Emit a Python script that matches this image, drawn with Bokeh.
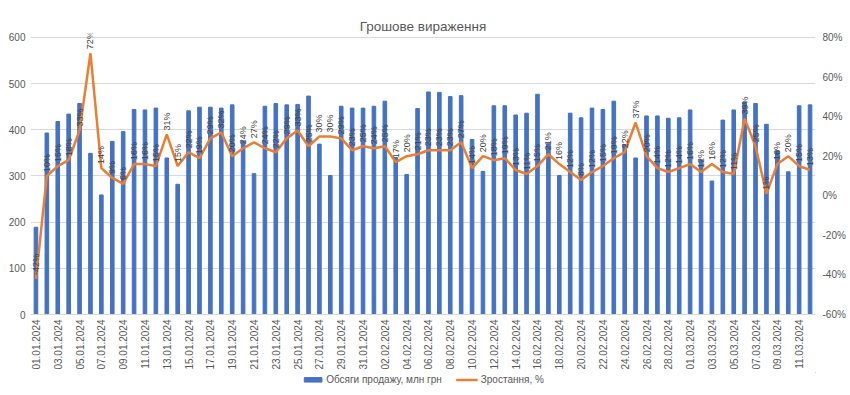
import math
from bokeh.plotting import figure
from bokeh.layouts import column
from bokeh.models import (Range1d, LinearAxis, FixedTicker, Legend, LegendItem,
                          ColumnDataSource, PrintfTickFormatter, CDSView, IndexFilter)
from bokeh.embed import file_html
from bokeh.resources import INLINE
from bokeh.core.properties import value

dates = [
    "01.01.2024", "02.01.2024", "03.01.2024", "04.01.2024", "05.01.2024", "06.01.2024",
    "07.01.2024", "08.01.2024", "09.01.2024", "10.01.2024", "11.01.2024", "12.01.2024",
    "13.01.2024", "14.01.2024", "15.01.2024", "16.01.2024", "17.01.2024", "18.01.2024",
    "19.01.2024", "20.01.2024", "21.01.2024", "22.01.2024", "23.01.2024", "24.01.2024",
    "25.01.2024", "26.01.2024", "27.01.2024", "28.01.2024", "29.01.2024", "30.01.2024",
    "31.01.2024", "01.02.2024", "02.02.2024", "03.02.2024", "04.02.2024", "05.02.2024",
    "06.02.2024", "07.02.2024", "08.02.2024", "09.02.2024", "10.02.2024", "11.02.2024",
    "12.02.2024", "13.02.2024", "14.02.2024", "15.02.2024", "16.02.2024", "17.02.2024",
    "18.02.2024", "19.02.2024", "20.02.2024", "21.02.2024", "22.02.2024", "23.02.2024",
    "24.02.2024", "25.02.2024", "26.02.2024", "27.02.2024", "28.02.2024", "29.02.2024",
    "01.03.2024", "02.03.2024", "03.03.2024", "04.03.2024", "05.03.2024", "06.03.2024",
    "07.03.2024", "08.03.2024", "09.03.2024", "10.03.2024", "11.03.2024", "12.03.2024",
]

sales = [
    189, 393, 418, 434, 457, 349, 259, 375, 396, 444, 443, 447,
    339, 282, 441, 449, 449, 447, 454, 376, 305, 451, 457, 454,
    455, 473, 369, 301, 451, 447, 447, 451, 462, 340, 303, 446,
    482, 481, 472, 474, 379, 310, 452, 452, 432, 436, 477, 370,
    301, 436, 426, 447, 444, 462, 368, 339, 430, 430, 425, 426,
    443, 335, 289, 421, 443, 460, 457, 412, 355, 309, 452, 454,
]

growth = [
    -42, 10, 15, 18, 33, 72, 14, 9, 6, 16, 16, 15,
    31, 15, 22, 19, 29, 32, 20, 24, 27, 24, 22, 29,
    33, 25, 30, 30, 29, 23, 25, 24, 25, 17, 20, 21,
    23, 23, 23, 27, 14, 20, 18, 19, 13, 11, 15, 21,
    16, 12, 8, 12, 15, 19, 22, 37, 20, 14, 12, 14,
    16, 12, 16, 12, 11, 39, 25, 1, 16, 20, 15, 13,
]

left_ticks = [0, 100, 200, 300, 400, 500, 600]
right_ticks = [-60, -40, -20, 0, 20, 40, 60, 80]

bar_label = "Обсяги продажу, млн грн"
line_label = "Зростання, %"
title_text = "Грошове вираження"

FONT = "Liberation Sans"
GREY = "#595959"
BAR_COLOR = "#4472C4"
LINE_COLOR = "#ED7D31"

# frame is 284 px tall; top 4 px is headroom above the 600 / 80% gridline
# so that the rotated data labels above the peak are not clipped
LEFT_TOP = 600 + 4 * 600 / 280
RIGHT_TOP = 80 + 4 * 140 / 280

idx = list(range(len(dates)))
src = ColumnDataSource(dict(x=idx, sales=sales, growth=growth,
                            lbl=[f"{g}%" for g in growth]))

p = figure(width=848, height=372, output_backend="svg", toolbar_location=None,
           x_range=Range1d(-0.5, len(dates) - 0.5),
           y_range=Range1d(0, LEFT_TOP),
           min_border_left=30, min_border_right=33, min_border_top=33,
           min_border_bottom=55)
p.outline_line_color = None
p.extra_y_ranges = {"pct": Range1d(right_ticks[0], RIGHT_TOP)}

p.title.text = title_text
p.title.align = "center"
p.title.text_font = FONT
p.title.text_font_size = "13.5px"
p.title.text_font_style = "normal"
p.title.text_color = GREY
p.title.standoff = 0

bars = p.vbar(x="x", top="sales", width=0.33, color=BAR_COLOR, source=src)
line = p.line(x="x", y="growth", y_range_name="pct", color=LINE_COLOR,
              line_width=2.5, source=src)
p.text(x="x", y="growth", text="lbl", y_range_name="pct", source=src,
       angle=math.pi / 2, text_align="left", text_baseline="middle",
       x_offset=0, y_offset=-4, text_font=value(FONT), text_font_size="9px",
       text_color="#404040")

# grid
p.xgrid.visible = False
p.ygrid.ticker = FixedTicker(ticks=left_ticks)
p.ygrid.grid_line_color = "#d9d9d9"

# left axis
ya = p.yaxis[0]
ya.ticker = FixedTicker(ticks=left_ticks)
ya.axis_line_color = None
ya.major_tick_line_color = None
ya.minor_tick_line_color = None
ya.major_tick_out = 0
ya.major_tick_in = 0
ya.major_label_text_font = FONT
ya.major_label_text_font_size = "10px"
ya.major_label_text_color = GREY
ya.major_label_standoff = 5

# right axis
ra = LinearAxis(y_range_name="pct", ticker=FixedTicker(ticks=right_ticks),
                formatter=PrintfTickFormatter(format="%d%%"))
ra.axis_line_color = None
ra.major_tick_line_color = None
ra.minor_tick_line_color = None
ra.major_tick_out = 0
ra.major_tick_in = 0
ra.major_label_text_font = FONT
ra.major_label_text_font_size = "10px"
ra.major_label_text_color = GREY
ra.major_label_standoff = 7
p.add_layout(ra, "right")

# x axis
xa = p.xaxis[0]
xa.ticker = FixedTicker(ticks=idx[::2])
xa.major_label_overrides = {i: dates[i] for i in idx[::2]}
xa.major_label_orientation = math.pi / 2
xa.axis_line_color = "#d9d9d9"
xa.major_tick_line_color = None
xa.minor_tick_line_color = None
xa.major_tick_out = 0
xa.major_tick_in = 0
xa.major_label_text_font = FONT
xa.major_label_text_font_size = "10px"
xa.major_label_text_color = GREY
xa.major_label_standoff = 5

# legend strip below the chart: the same series, reduced to a single row and
# scrolled far out of view, so only the legend entries are visible
lp = figure(width=848, height=14, output_backend="svg", toolbar_location=None,
            x_axis_location=None, y_axis_location=None, min_border=0,
            x_range=Range1d(-3, -2), y_range=Range1d(-3000, -2000))
lp.outline_line_color = None
lp.grid.visible = False
lb = lp.vbar(x="x", top="sales", width=0.33, color=BAR_COLOR, source=src,
             view=CDSView(filter=IndexFilter(indices=[0])))
ll = lp.line(x="x", y="growth", color=LINE_COLOR, line_width=2.5, source=src,
             view=CDSView(filter=IndexFilter(indices=[0])))
legend = Legend(items=[LegendItem(label=bar_label, renderers=[lb]),
                       LegendItem(label=line_label, renderers=[ll])],
                orientation="horizontal", location="center",
                label_text_font=FONT, label_text_font_size="10px",
                label_text_color=GREY, border_line_color=None,
                background_fill_alpha=0, glyph_width=22, glyph_height=6,
                label_height=10, label_standoff=3, spacing=14,
                padding=0, margin=0)
lp.add_layout(legend)

layout = column(p, lp, spacing=0)
open("out.html", "w").write(file_html(layout, INLINE))
